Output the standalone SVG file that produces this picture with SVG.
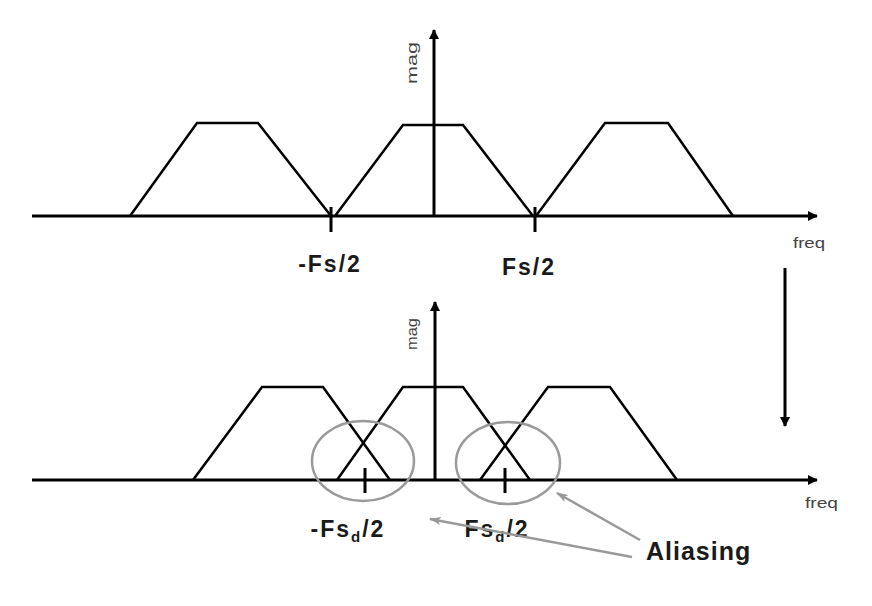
<svg xmlns="http://www.w3.org/2000/svg" width="872" height="606" viewBox="0 0 872 606">
<defs>
<marker id="ah" markerWidth="10" markerHeight="10" refX="9" refY="5" orient="auto" markerUnits="userSpaceOnUse"><path d="M0,0 L10,5 L0,10 Z" fill="#000"/></marker>
<marker id="gh" markerWidth="12" markerHeight="10" refX="11" refY="5" orient="auto" markerUnits="userSpaceOnUse"><path d="M0,1 L12,5 L0,9 L3,5 Z" fill="#999"/></marker>
<style>
.ax{stroke:#000;stroke-width:3;fill:none}
.tr{stroke:#000;stroke-width:2.5;fill:none;stroke-linejoin:miter}
.tk{stroke:#000;stroke-width:3}
.el{stroke:#9a9a9a;stroke-width:2.5;fill:none}
.ga{stroke:#999;stroke-width:2.5;fill:none}
.lb{font-family:"Liberation Sans",Arial,sans-serif;font-size:23px;font-weight:bold;fill:#1a1a1a;letter-spacing:2px}
.sm{font-family:"Liberation Sans",Arial,sans-serif;font-size:14px;fill:#444}
.al{font-family:"Liberation Sans",Arial,sans-serif;font-size:25px;font-weight:bold;fill:#1a1a1a;letter-spacing:1px}
</style>
</defs>
<g id="top-plot">
<g id="top-axes">
<line class="ax" x1="32" y1="216" x2="817" y2="216" marker-end="url(#ah)"/>
<line class="ax" x1="434" y1="216" x2="434" y2="30" marker-end="url(#ah)"/>
<text class="sm" transform="translate(417,63) rotate(-90)" text-anchor="middle" textLength="42" lengthAdjust="spacingAndGlyphs">mag</text>
<text class="sm" x="793" y="248" textLength="32" lengthAdjust="spacingAndGlyphs">freq</text>
</g>
<g id="top-spectra">
<polyline class="tr" points="130,216 197,123 258,123 331,216"/>
<polyline class="tr" points="335,216 403,125 463,125 533,216"/>
<polyline class="tr" points="536,216 605,123 668,123 733,216"/>
</g>
<g id="top-ticks">
<line class="tk" x1="331" y1="207" x2="331" y2="232"/>
<line class="tk" x1="535" y1="207" x2="535" y2="232"/>
<text class="lb" x="330" y="272" text-anchor="middle">-Fs/2</text>
<text class="lb" x="529" y="275" text-anchor="middle">Fs/2</text>
</g>
</g>
<g id="transition-arrow">
<line class="ax" x1="785" y1="268" x2="785" y2="426" marker-end="url(#ah)"/>
</g>
<g id="bottom-plot">
<g id="bottom-axes">
<line class="ax" x1="32" y1="480" x2="817" y2="480" marker-end="url(#ah)"/>
<line class="ax" x1="435" y1="480" x2="435" y2="302" marker-end="url(#ah)"/>
<text class="sm" transform="translate(417,334) rotate(-90)" text-anchor="middle" textLength="32" lengthAdjust="spacingAndGlyphs">mag</text>
<text class="sm" x="805" y="508" textLength="33" lengthAdjust="spacingAndGlyphs">freq</text>
</g>
<g id="bottom-spectra">
<polyline class="tr" points="193,480 262,387 323,387 390,480"/>
<polyline class="tr" points="337,480 403,387 463,387 530,480"/>
<polyline class="tr" points="480,480 548,387 610,387 677,480"/>
</g>
<g id="bottom-ticks">
<line class="tk" x1="365" y1="468" x2="365" y2="493"/>
<line class="tk" x1="505" y1="468" x2="505" y2="493"/>
<text class="lb" x="348" y="537" text-anchor="middle">-Fs<tspan font-size="15" dy="5">d</tspan><tspan dy="-5">/2</tspan></text>
<text class="lb" x="497" y="537" text-anchor="middle">Fs<tspan font-size="15" dy="5">d</tspan><tspan dy="-5">/2</tspan></text>
</g>
<g id="aliasing-circles">
<ellipse class="el" cx="363" cy="461" rx="51" ry="40"/>
<ellipse class="el" cx="508" cy="463" rx="52" ry="41"/>
</g>
</g>
<g id="connectors">
<line class="ga" x1="640" y1="540" x2="557" y2="493" marker-end="url(#gh)"/>
<line class="ga" x1="632" y1="557" x2="430" y2="519" marker-end="url(#gh)"/>
</g>
<g id="aliasing-label">
<text class="al" x="646" y="560">Aliasing</text>
</g>
</svg>
